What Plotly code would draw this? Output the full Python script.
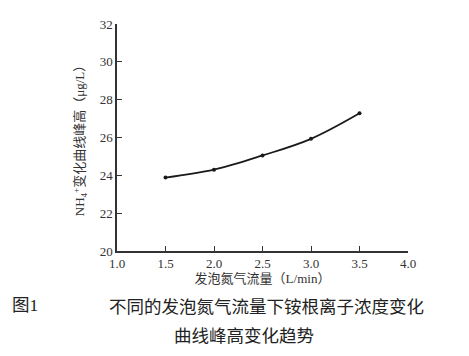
import plotly.graph_objects as go

flow = [1.5, 2.0, 2.5, 3.0, 3.5]
peak = [23.88, 24.3, 25.05, 25.93, 27.28]
x_ticks = [1.0, 1.5, 2.0, 2.5, 3.0, 3.5, 4.0]
y_ticks = [20, 22, 24, 26, 28, 30, 32]

serif = "Liberation Serif, Noto Sans CJK SC, serif"
cjk = "Liberation Serif, Noto Sans CJK SC"

# page body has an 8px offset; target plot area in screenshot: x 117..408, y 17..251
OFF = 8
W, H = 469, 356
L, T = 117 - OFF, 17 - OFF
R = W - (408 - OFF)
B = H - (251 - OFF)

fig = go.Figure()
fig.add_trace(go.Scatter(
    x=flow, y=peak, mode="lines+markers",
    line=dict(color="#1a1a1a", width=1.8, shape="spline", smoothing=1.0),
    marker=dict(color="#1a1a1a", size=4),
    showlegend=False,
))

axis_common = dict(
    showline=True, linecolor="#333333", linewidth=1.5,
    ticks="inside", ticklen=5, tickwidth=1, tickcolor="#333333",
    showgrid=False, zeroline=False, mirror=False,
    tickfont=dict(family=serif, size=13, color="#333333"),
)

fig.update_layout(
    width=W, height=H,
    margin=dict(l=L, r=R, t=T, b=B),
    plot_bgcolor="white", paper_bgcolor="white",
    xaxis=dict(range=[1.0, 4.0], tickvals=x_ticks,
               ticktext=[f"{v:.1f}" for v in x_ticks],
               title=dict(text="发泡氮气流量（L/min）",
                          font=dict(family=cjk, size=13, color="#333333"),
                          standoff=4),
               **axis_common),
    yaxis=dict(range=[20, 32], tickvals=y_ticks,
               title=dict(text="NH<sub>4</sub><sup>+</sup>变化曲线峰高（μg/L）",
                          font=dict(family=cjk, size=13, color="#333333"),
                          standoff=12),
               **axis_common),
)

plot_w = W - L - R
plot_h = H - T - B

def px_to_paper(px, py):
    # screenshot pixel -> paper coords
    fx, fy = px - OFF, py - OFF
    return (fx - L) / plot_w, (H - B - fy) / plot_h

cap_font = dict(family="Noto Sans CJK SC", size=17.5, color="#222222")
x0, y0 = px_to_paper(10, 307)
x1, y1 = px_to_paper(107, 307)
x2, y2 = px_to_paper(244, 337)
fig.add_annotation(text="图1", x=x0, y=y0, xref="paper", yref="paper",
                   xanchor="left", yanchor="middle", showarrow=False,
                   font=dict(family="Liberation Serif, Noto Sans CJK SC", size=17.5, color="#222222"))
fig.add_annotation(text="不同的发泡氮气流量下铵根离子浓度变化", x=x1, y=y1,
                   xref="paper", yref="paper", xanchor="left", yanchor="middle",
                   showarrow=False, font=cap_font)
fig.add_annotation(text="曲线峰高变化趋势", x=x2, y=y2,
                   xref="paper", yref="paper", xanchor="center", yanchor="middle",
                   showarrow=False, font=cap_font)

fig.write_html("out.html")
